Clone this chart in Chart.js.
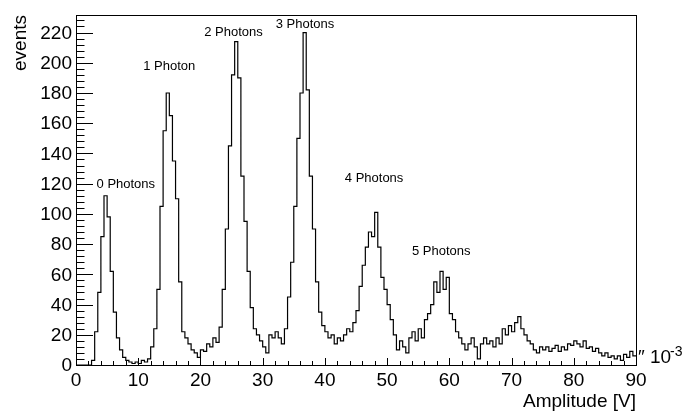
<!DOCTYPE html>
<html>
<head>
<meta charset="utf-8">
<script src="https://cdn.jsdelivr.net/npm/chart.js@4.4.1/dist/chart.umd.min.js"></script>
<style>
  body { margin: 0; background: #fff; }
  #wrap { width: 684px; height: 413px; }
</style>
</head>
<body>
<div id="wrap"><canvas id="histo"></canvas></div>
<script>
// histogram: bins of 0.5 (x10^-3 V) from 0 to 90
const binStart = 0;
const binWidth = 0.5;
const counts = [
  0, 0, 0, 0, 0, 3, 22, 48, 85, 112,
  98, 62, 35, 18, 10, 5, 3, 2, 1, 2,
  1, 3, 2, 4, 12, 24, 50, 105, 155, 180,
  165, 135, 110, 55, 22, 18, 14, 10, 8, 5,
  10, 9, 14, 12, 18, 15, 25, 50, 90, 145,
  192, 214, 190, 125, 95, 62, 38, 24, 20, 16,
  12, 8, 20, 18, 22, 18, 14, 24, 45, 68,
  105, 150, 180, 220, 182, 125, 90, 55, 35, 26,
  22, 18, 20, 14, 18, 16, 20, 24, 22, 28,
  36, 52, 66, 78, 88, 85, 101, 78, 58, 50,
  40, 30, 20, 10, 16, 12, 8, 18, 22, 16,
  24, 18, 30, 34, 40, 55, 48, 62, 50, 58,
  34, 30, 22, 18, 14, 10, 14, 18, 12, 4,
  14, 18, 14, 16, 12, 18, 14, 24, 20, 26,
  22, 28, 32, 24, 20, 16, 14, 10, 8, 12,
  10, 12, 9, 11, 13, 9, 12, 10, 14, 13,
  16, 14, 12, 16, 11, 12, 9, 11, 8, 6,
  8, 5, 6, 4, 6, 3, 7, 5, 9, 6
];
const xTicks = [0, 10, 20, 30, 40, 50, 60, 70, 80, 90];
const yTicks = [0, 20, 40, 60, 80, 100, 120, 140, 160, 180, 200, 220];
const peakNames = ['0 Photons', '1 Photon', '2 Photons', '3 Photons', '4 Photons', '5 Photons'];

const xMin = 0, xMax = 90, yMax = 231.6;

// left bin edges, plus the closing edge
const points = counts.map((c, i) => ({ x: binStart + i * binWidth, y: c }));
points.push({ x: binStart + counts.length * binWidth, y: counts[counts.length - 1] });

const font = '"Liberation Sans", Arial, Helvetica, sans-serif';

// ROOT style frame, inward ticks and labels
const rootAxes = {
  id: 'rootAxes',
  afterDraw(chart) {
    const ctx = chart.ctx;
    const a = chart.chartArea;
    const xs = chart.scales.x, ys = chart.scales.y;
    ctx.save();
    ctx.strokeStyle = '#000';
    ctx.lineWidth = 1;
    ctx.strokeRect(a.left + 0.5, a.top + 0.5, a.right - a.left, a.bottom - a.top);

    ctx.beginPath();
    // x ticks: major every 10, minor every 2
    for (let v = xMin; v <= xMax + 0.001; v += 2) {
      const px = Math.round(xs.getPixelForValue(v)) + 0.5;
      const len = (v % 10 === 0) ? 7 : 4;
      ctx.moveTo(px, a.bottom);
      ctx.lineTo(px, a.bottom - len);
    }
    // y ticks: major every 20, minor every 4
    for (let v = 0; v <= yMax; v += 4) {
      const py = Math.round(ys.getPixelForValue(v)) + 0.5;
      const len = (v % 20 === 0) ? 17 : 8.5;
      ctx.moveTo(a.left, py);
      ctx.lineTo(a.left + len, py);
    }
    ctx.stroke();

    ctx.fillStyle = '#000';
    ctx.font = '19px ' + font;
    ctx.textAlign = 'right';
    ctx.textBaseline = 'middle';
    yTicks.forEach(v => ctx.fillText(String(v), a.left - 4, ys.getPixelForValue(v) + 1));
    ctx.textAlign = 'center';
    ctx.textBaseline = 'top';
    xTicks.forEach(v => ctx.fillText(String(v), xs.getPixelForValue(v), a.bottom + 6));

    // axis titles
    ctx.textAlign = 'right';
    ctx.textBaseline = 'alphabetic';
    ctx.fillText('Amplitude [V]', a.right, 407);
    ctx.save();
    ctx.translate(26, a.top);
    ctx.rotate(-Math.PI / 2);
    ctx.fillText('events', 0, 0);
    ctx.restore();

    // exponent
    ctx.textAlign = 'left';
    ctx.fillText('\u2033 10', a.right + 2, 363);
    ctx.font = '14px ' + font;
    ctx.fillText('-3', a.right + 34, 356);

    // peak labels, anchored in data units
    const anchors = [[3.3, 116.8], [10.8, 194.9], [20.6, 217.4], [32.1, 222.7], [43.2, 121.4], [54.0, 72.5]];
    ctx.font = '13px ' + font;
    peakNames.forEach((t, i) => {
      ctx.fillText(t, xs.getPixelForValue(anchors[i][0]), ys.getPixelForValue(anchors[i][1]));
    });
    ctx.restore();
  }
};

new Chart(document.getElementById('histo'), {
  type: 'line',
  data: {
    datasets: [{
      data: points,
      stepped: 'before',
      borderColor: '#000',
      borderWidth: 1.2,
      pointRadius: 0,
      fill: false
    }]
  },
  options: {
    responsive: true,
    maintainAspectRatio: false,
    animation: false,
    layout: { padding: { left: 76, right: 48, top: 15, bottom: 48 } },
    plugins: { legend: { display: false }, tooltip: { enabled: false } },
    scales: {
      x: { type: 'linear', min: xMin, max: xMax, display: false },
      y: { type: 'linear', min: 0, max: yMax, display: false }
    }
  },
  plugins: [rootAxes]
});
</script>
</body>
</html>
